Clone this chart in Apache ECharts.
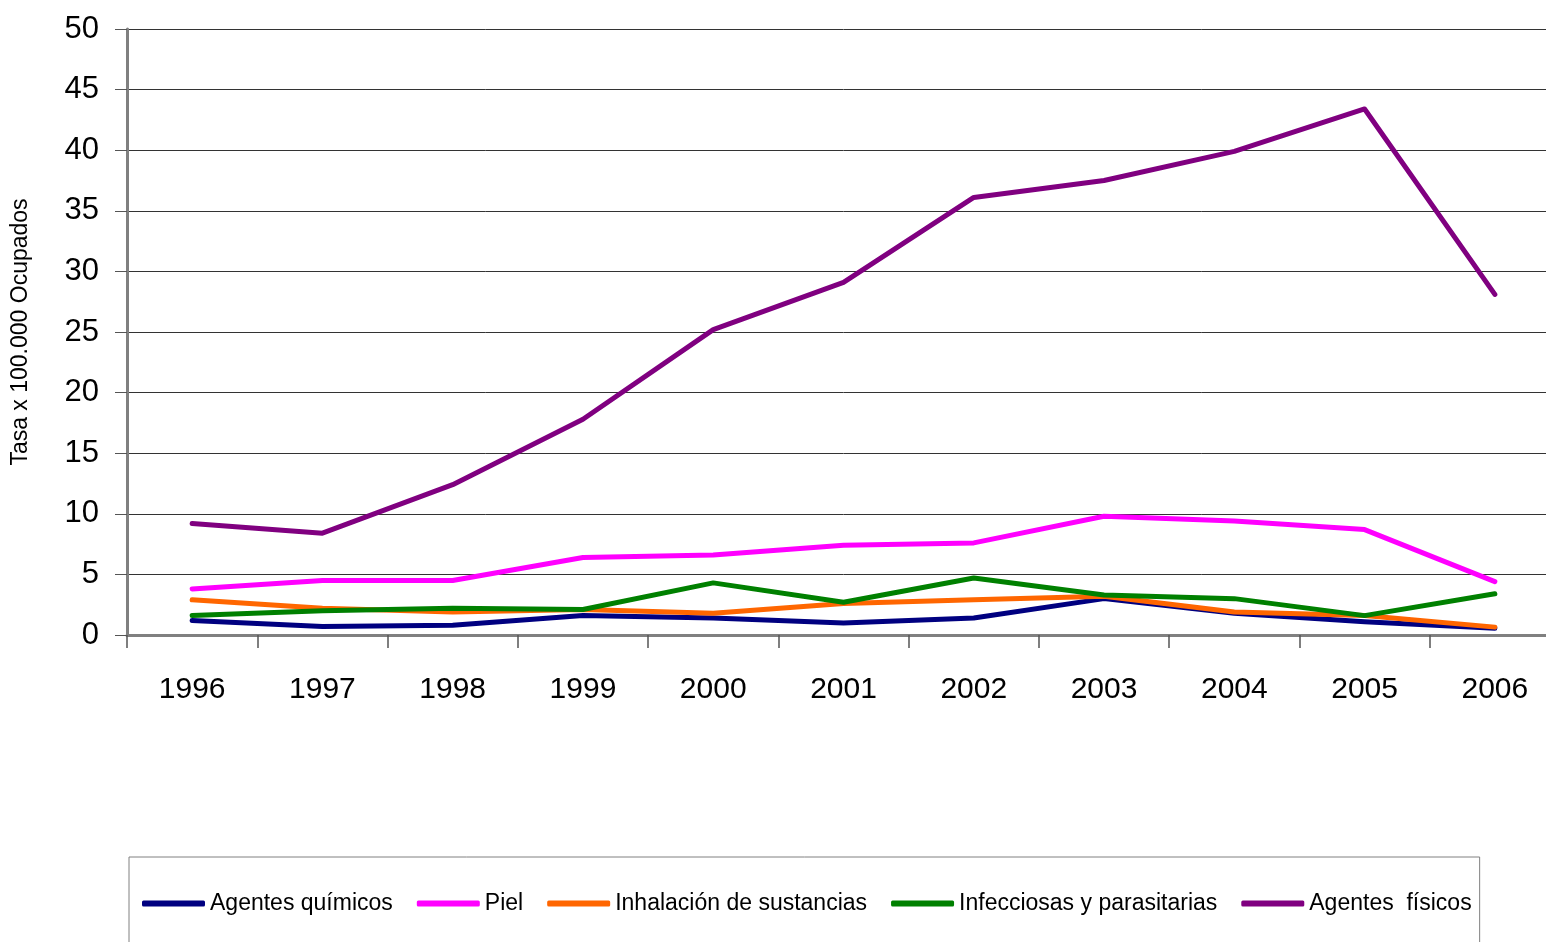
<!DOCTYPE html>
<html>
<head>
<meta charset="utf-8">
<script src="https://cdn.jsdelivr.net/npm/echarts@6/dist/echarts.min.js"></script>
<style>
html,body{margin:0;padding:0;background:#fff;overflow:hidden;width:1546px;height:942px;}
#chart{width:1560px;height:942px;}
</style>
</head>
<body>
<div id="chart"></div>
<script>
const years = ['1996','1997','1998','1999','2000','2001','2002','2003','2004','2005','2006'];
const quimicos = [1.2, 0.7, 0.8, 1.6, 1.4, 1.0, 1.4, 3.0, 1.8, 1.1, 0.55];
const piel = [3.8, 4.5, 4.5, 6.4, 6.6, 7.4, 7.6, 9.8, 9.4, 8.7, 4.4];
const inhalacion = [2.9, 2.2, 1.9, 2.1, 1.8, 2.6, 2.9, 3.2, 1.9, 1.6, 0.65];
const infecciosas = [1.6, 2.0, 2.2, 2.1, 4.3, 2.7, 4.7, 3.3, 3.0, 1.6, 3.4];
const fisicos = [9.2, 8.4, 12.4, 17.8, 25.2, 29.1, 36.1, 37.5, 39.9, 43.4, 28.1];
const seriesNames = ['Agentes químicos','Piel','Inhalación de sustancias','Infecciosas y parasitarias','Agentes  físicos'];
const seriesColors = ['#000080','#FF00FF','#FF6600','#008000','#800080'];
const seriesData = [quimicos, piel, inhalacion, infecciosas, fisicos];

const FONT = '"Liberation Sans", Arial, sans-serif';
const chart = echarts.init(document.getElementById('chart'), null, {renderer:'canvas'});
chart.setOption({
  animation: false,
  backgroundColor: '#fff',
  grid: {left: 127, top: 29, width: 1433, height: 606, containLabel: false},
  legend: {
    left: 129, top: 857,
    padding: [35, 8, 40, 13],
    borderColor: '#808080', borderWidth: 1,
    itemWidth: 63, itemHeight: 6, itemGap: 24,
    textStyle: {fontFamily: FONT, fontSize: 23, color: '#000'},
    data: seriesNames.map((n, i) => ({name: n, icon: 'roundRect', itemStyle: {color: seriesColors[i]}}))
  },
  xAxis: {
    type: 'category', data: years, boundaryGap: true,
    axisLine: {lineStyle: {color: '#808080', width: 3}},
    axisTick: {show: true, length: 13, interval: 0, lineStyle: {color: '#555', width: 1.5}},
    axisLabel: {fontFamily: FONT, fontSize: 30, color: '#000', margin: 40, interval: 0}
  },
  yAxis: {
    type: 'value', min: 0, max: 50, interval: 5,
    name: 'Tasa x 100.000 Ocupados', nameLocation: 'middle', nameGap: 95, nameRotate: 90,
    nameTextStyle: {fontFamily: FONT, fontSize: 23, color: '#000'},
    axisLine: {show: true, lineStyle: {color: '#808080', width: 3}},
    axisTick: {show: true, length: 12, lineStyle: {color: '#555', width: 1}},
    axisLabel: {fontFamily: FONT, fontSize: 31, color: '#000', margin: 28},
    splitLine: {show: true, lineStyle: {color: '#333', width: 1}}
  },
  series: seriesData.map((d, i) => ({
    name: seriesNames[i], type: 'line', data: d,
    symbol: 'none', smooth: false,
    lineStyle: {color: seriesColors[i], width: 5, cap: 'round', join: 'round'},
    itemStyle: {color: seriesColors[i]}
  }))
});
</script>
</body>
</html>
